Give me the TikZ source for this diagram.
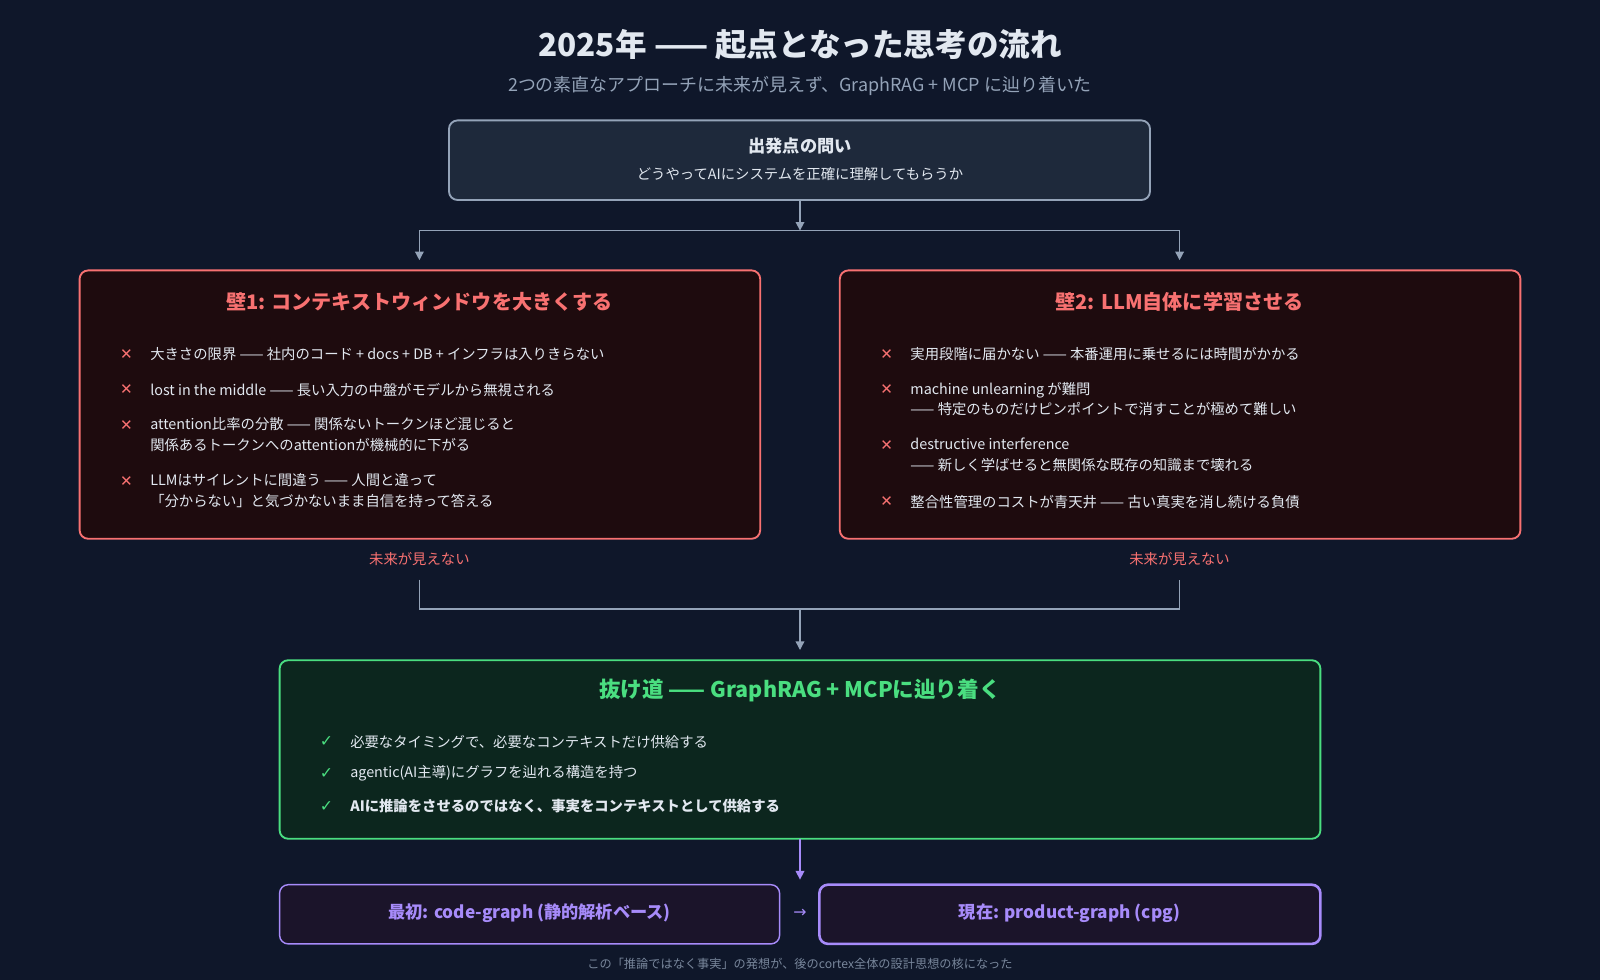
\documentclass[tikz,border=0pt]{standalone}
\usepackage{fontspec}
\setmainfont{Noto Sans CJK JP}
\newfontfamily\symfont{DejaVu Sans}
\usetikzlibrary{arrows.meta}
\definecolor{BgColor}{RGB}{15,23,42}
\definecolor{QColor}{RGB}{30,41,59}
\definecolor{LineColor}{RGB}{148,163,184}
\definecolor{WallColor}{RGB}{248,113,113}
\definecolor{WallFill}{RGB}{30,11,14}
\definecolor{WayColor}{RGB}{74,222,128}
\definecolor{WayFill}{RGB}{12,38,30}
\definecolor{GraphColor}{RGB}{167,139,250}
\definecolor{GraphFill}{RGB}{27,20,42}
\definecolor{TextColor}{RGB}{226,232,240}

\begin{document}
\begin{tikzpicture}[
    x=0.025cm, y=-0.025cm,
    every node/.style={text=TextColor, font=\fontsize{10}{13}\selectfont, inner sep=0pt},
    box/.style={draw, line width=1.3pt, rounded corners=6pt},
    item/.style={anchor=west, align=left},
    cross/.style={text=WallColor, font=\symfont\bfseries\fontsize{10.5}{12}\selectfont},
    tick/.style={text=WayColor, font=\symfont\bfseries\fontsize{11}{12}\selectfont},
    conn/.style={draw=LineColor, line width=1pt},
    arrow/.style={conn, -{Triangle[length=6pt, width=6pt]}},
    boxtitle/.style={font=\bfseries\fontsize{14}{16}\selectfont},
]
\fill[BgColor] (0,0) rectangle (1568,960);
\useasboundingbox (0,0) rectangle (1568,960);

% Title
\node[font=\bfseries\fontsize{22}{24}\selectfont] (title) at (784,44) {2025年 —— 起点となった思考の流れ};
\node[text=LineColor, font=\fontsize{12.5}{14}\selectfont] (subtitle) at (784,84) {2つの素直なアプローチに未来が見えず、GraphRAG + MCP に辿り着いた};

% Question
\path[box, draw=LineColor, fill=QColor] (440,118) rectangle (1127,196);
\coordinate (qbot) at (784,196);
\node[font=\bfseries\fontsize{12}{14}\selectfont] (q) at (784,143) {出発点の問い};
\node[font=\fontsize{10}{12}\selectfont] (qsub) at (784,171) {どうやってAIにシステムを正確に理解してもらうか};

% Split
\coordinate (split) at (784,226);
\coordinate (sl) at (411,226);
\coordinate (sr) at (1156,226);
\draw[arrow] (qbot) -- (split);
\draw[conn] (sl) -- (sr);
\draw[arrow] (sl) -- (411,255);
\draw[arrow] (sr) -- (1156,255);

% Wall 1
\path[box, draw=WallColor, fill=WallFill] (78,265) rectangle (745,528);
\node[boxtitle, text=WallColor] (w1) at (411,296) {壁1: コンテキストウィンドウを大きくする};
\node[cross] (c11) at (124,347) {✕};
\node[item] (a11) at (147,347) {大きさの限界 —— 社内のコード + docs + DB + インフラは入りきらない};
\node[cross] (c12) at (124,382) {✕};
\node[item] (a12) at (147,382) {lost in the middle —— 長い入力の中盤がモデルから無視される};
\node[cross] (c13) at (124,417) {✕};
\node[item, anchor=north west] (a13) at (147,409) {attention比率の分散 —— 関係ないトークンほど混じると\\[1.2pt]関係あるトークンへのattentionが機械的に下がる};
\node[cross] (c14) at (124,472) {✕};
\node[item, anchor=north west] (a14) at (147,464) {LLMはサイレントに間違う —— 人間と違って\\[1.2pt]「分からない」と気づかないまま自信を持って答える};

% Wall 2
\path[box, draw=WallColor, fill=WallFill] (823,265) rectangle (1490,528);
\node[boxtitle, text=WallColor] (w2) at (1156,296) {壁2: LLM自体に学習させる};
\node[cross] (c21) at (869,347) {✕};
\node[item] (a21) at (892,347) {実用段階に届かない —— 本番運用に乗せるには時間がかかる};
\node[cross] (c22) at (869,382) {✕};
\node[item, anchor=north west] (a22) at (892,374) {machine unlearning が難問\\[1.2pt]—— 特定のものだけピンポイントで消すことが極めて難しい};
\node[cross] (c23) at (869,437) {✕};
\node[item, anchor=north west] (a23) at (892,429) {destructive interference\\[1.2pt]—— 新しく学ばせると無関係な既存の知識まで壊れる};
\node[cross] (c24) at (869,492) {✕};
\node[item] (a24) at (892,492) {整合性管理のコストが青天井 —— 古い真実を消し続ける負債};

% No future
\node[text=WallColor, font=\fontsize{10}{12}\selectfont] (nf1) at (411,548) {未来が見えない};
\node[text=WallColor, font=\fontsize{10}{12}\selectfont] (nf2) at (1156,548) {未来が見えない};
\coordinate (ml) at (411,597);
\coordinate (mr) at (1156,597);
\coordinate (merge) at (784,597);
\draw[conn] (411,568) -- (ml) -- (mr) -- (1156,568);
\draw[arrow] (merge) -- (784,637);

% Way out
\path[box, draw=WayColor, fill=WayFill] (274,647) rectangle (1294,822);
\node[boxtitle, text=WayColor, font=\bfseries\fontsize{15}{17}\selectfont] (way) at (784,677) {抜け道 —— GraphRAG + MCPに辿り着く};
\node[tick] (t1) at (320,727) {✓};
\node[item] (b1) at (343,727) {必要なタイミングで、必要なコンテキストだけ供給する};
\node[tick] (t2) at (320,758) {✓};
\node[item] (b2) at (343,758) {agentic(AI主導)にグラフを辿れる構造を持つ};
\node[tick] (t3) at (320,790) {✓};
\node[item, font=\bfseries\fontsize{10}{13}\selectfont] (b3) at (343,790) {AIに推論をさせるのではなく、事実をコンテキストとして供給する};

\draw[arrow, draw=GraphColor] (784,822) -- (784,862);

% Graphs
\path[box, draw=GraphColor, fill=GraphFill, line width=1pt] (274,867) rectangle (764,925);
\node[text=GraphColor, font=\bfseries\fontsize{12}{14}\selectfont] (first) at (519,895) {最初: code-graph (静的解析ベース)};
\path[box, draw=GraphColor, fill=GraphFill, line width=1.8pt] (803,867) rectangle (1294,925);
\node[text=GraphColor, font=\bfseries\fontsize{12}{14}\selectfont] (now) at (1048,895) {現在: product-graph (cpg)};
\node[text=GraphColor, font=\symfont\fontsize{11}{12}\selectfont] (to) at (784,895) {→};

% Footnote
\node[text=LineColor!80!BgColor, font=\fontsize{8.5}{10}\selectfont] (foot) at (784,945) {この「推論ではなく事実」の発想が、後のcortex全体の設計思想の核になった};
\end{tikzpicture}
\end{document}
